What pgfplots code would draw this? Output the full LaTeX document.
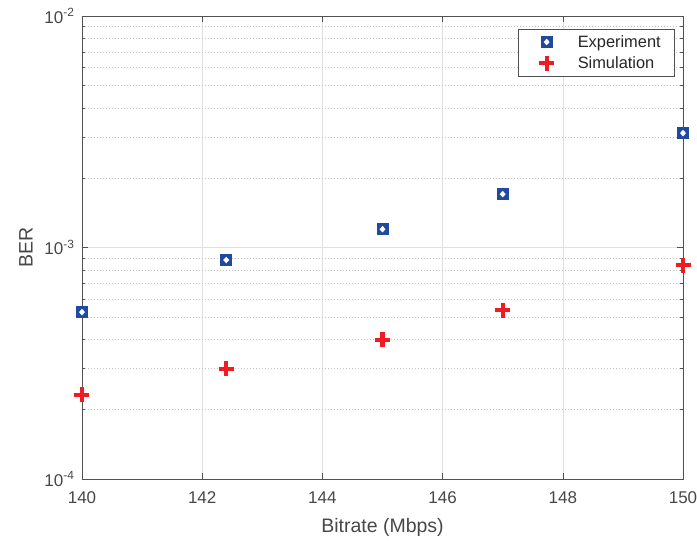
\documentclass[border=0pt]{standalone}
\usepackage{fontspec}
\setmainfont{Liberation Sans}
\usepackage{pgfplots}
\pgfplotsset{compat=1.18}
\definecolor{axcol}{RGB}{38,38,38}
\definecolor{expblue}{RGB}{31,74,160}
\definecolor{simred}{RGB}{240,28,36}
\definecolor{gridcol}{RGB}{224,224,224}
\definecolor{mgridcol}{RGB}{195,195,195}
\pgfdeclareplotmark{sqd}{%
  \pgfsetfillcolor{expblue}\pgfsetstrokecolor{expblue}%
  \pgfpathrectangle{\pgfqpoint{-\pgfplotmarksize}{-\pgfplotmarksize}}{\pgfqpoint{2\pgfplotmarksize}{2\pgfplotmarksize}}%
  \pgfusepathqfillstroke
  \pgfsetfillcolor{white}%
  \pgfpathmoveto{\pgfqpoint{0pt}{0.6\pgfplotmarksize}}%
  \pgfpathlineto{\pgfqpoint{0.55\pgfplotmarksize}{0pt}}%
  \pgfpathlineto{\pgfqpoint{0pt}{-0.6\pgfplotmarksize}}%
  \pgfpathlineto{\pgfqpoint{-0.55\pgfplotmarksize}{0pt}}%
  \pgfpathclose
  \pgfusepathqfill
}
\begin{document}
\begin{tikzpicture}
\path[use as bounding box] (-82pt,-63pt) rectangle (615pt,479pt);
\begin{axis}[
  scale only axis,
  width=601pt, height=463pt,
  ymode=log,
  xmin=140, xmax=150, ymin=1e-4, ymax=1e-2,
  xtick={140,142,...,150},
  xticklabels={140,142,144,146,148,150},
  ytick={1e-4,1e-3,1e-2},
  yticklabels={10\textsuperscript{-4},10\textsuperscript{-3},10\textsuperscript{-2}},
  tick label style={font=\fontsize{17}{19}\selectfont, text=axcol!85},
  xticklabel style={yshift=-9pt},
  yticklabel style={xshift=-4pt},
  label style={font=\fontsize{19.5}{22}\selectfont, text=axcol!85},
  xlabel={Bitrate (Mbps)},
  ylabel={BER},
  xlabel style={yshift=-8pt},
  ylabel style={yshift=5pt},
  axis line style={axcol!80, line width=0.7pt},
  tick style={axcol!80, line width=0.6pt},
  tick align=inside,
  major tick length=6pt,
  minor tick length=3.5pt,
  xmajorgrids, ymajorgrids, yminorgrids,
  major grid style={gridcol, line width=0.6pt},
  minor grid style={mgridcol, dash pattern=on 0.8pt off 2.2pt, line width=0.6pt},
  legend style={at={(0.9867,0.9719)}, anchor=north east, draw=axcol!80, line width=0.6pt,
    font=\fontsize{16.4}{19}\selectfont, text=axcol, inner xsep=6pt, inner ysep=4pt,
    row sep=4pt, cells={anchor=west}},
  legend cell align=left,
  legend image code/.code={\path (0pt,0pt) (47pt,0pt); \draw[#1] plot coordinates {(20pt,0pt)};},
  clip=false,
]
\addplot[only marks, mark=sqd, mark size=5.5pt, line width=0.6pt] coordinates {
  (140,5.26e-4) (142.4,8.83e-4) (145,1.20e-3) (147,1.70e-3) (150,3.12e-3)};
\addlegendentry{Experiment\kern6pt}
\addplot[only marks, mark=+, mark size=7.5pt, line width=4.2pt, color=simred] coordinates {
  (140,2.31e-4) (142.4,2.99e-4) (145,3.99e-4) (147,5.37e-4) (150,8.40e-4)};
\addlegendentry{Simulation}
\end{axis}
\end{tikzpicture}
\end{document}
